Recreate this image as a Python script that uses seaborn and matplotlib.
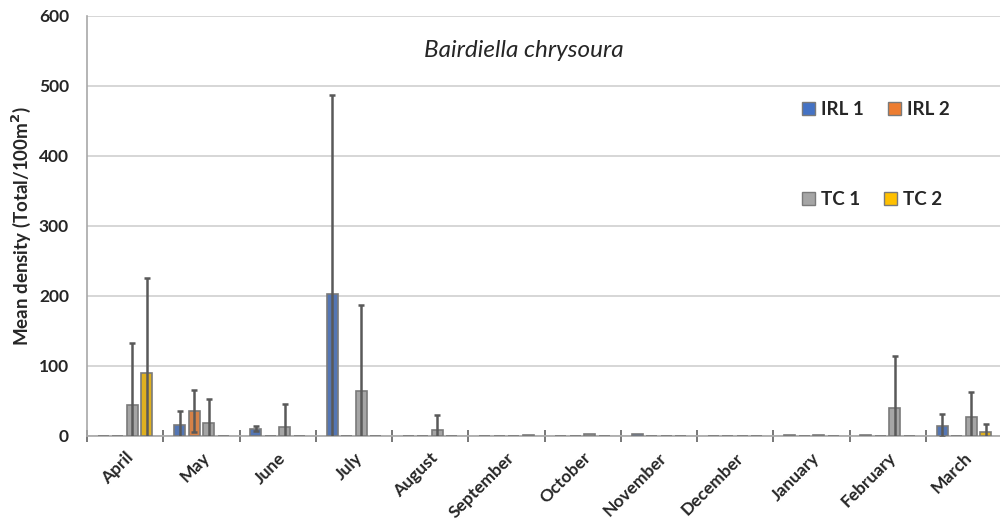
import numpy as np
import pandas as pd
import matplotlib
matplotlib.use("Agg")
import matplotlib.pyplot as plt
from matplotlib.patches import Patch
import seaborn as sns

months = ["April", "May", "June", "July", "August", "September", "October",
          "November", "December", "January", "February", "March"]
sites = ["IRL 1", "IRL 2", "TC 1", "TC 2"]

# Mean density per site and month
irl1_mean = [0, 16, 10, 203, 0, 0, 0, 2, 0, 1.5, 1.5, 14.5]
irl2_mean = [0, 35, 0, 0, 0, 0, 0, 0, 0, 0, 0, 0]
tc1_mean = [43.5, 18, 12, 64, 8, 0, 2, 0, 0, 1, 40, 27]
tc2_mean = [89, 0, 0, 0, 0, 1, 0, 0, 0, 0, 0, 6]

# Standard deviations
irl1_sd = [0, 20, 3.5, 284, 0, 0, 0, 0, 0, 0, 0, 16.5]
irl2_sd = [0, 30, 0, 0, 0, 0, 0, 0, 0, 0, 0, 0]
tc1_sd = [88.5, 35, 33, 123, 22, 0, 0, 0, 0, 0, 74, 35]
tc2_sd = [137, 0, 0, 0, 0, 0, 0, 0, 0, 0, 0, 11]

colors = ["#4472C4", "#ED7D31", "#A5A5A5", "#FFC000"]

means = [irl1_mean, irl2_mean, tc1_mean, tc2_mean]
sds = [irl1_sd, irl2_sd, tc1_sd, tc2_sd]

df = pd.DataFrame({
    "month": np.repeat([months], 4, axis=0).ravel(),
    "site": np.repeat(sites, len(months)),
    "mean": np.concatenate(means),
    "sd": np.concatenate(sds),
})

sns.set_theme(style="white")
plt.rcParams["font.family"] = ["Lato", "DejaVu Sans"]
txt = "#262626"

fig = plt.figure(figsize=(10, 5.25), dpi=100)
ax = fig.add_axes([0.087, 0.170, 0.915, 0.800])

sns.barplot(data=df, x="month", y="mean", hue="site", order=months,
            hue_order=sites, palette=colors, errorbar=None, width=0.76,
            gap=0.24, edgecolor="#7a7a7a", linewidth=1.2, ax=ax, legend=False,
            zorder=3)

# Error bars drawn from the bar positions seaborn produced
for cont, m, s in zip(ax.containers, means, sds):
    for patch, mv, sv in zip(cont.patches, m, s):
        if sv > 0:
            xc = patch.get_x() + patch.get_width() / 2
            ax.errorbar(xc, mv, yerr=sv, fmt="none", ecolor="#595959",
                        elinewidth=1.8, capsize=2.5, capthick=1.8, zorder=4)

ax.set_ylim(0, 600)
ax.set_xlim(-0.5, len(months) - 0.5)
ax.set_yticks(np.arange(0, 601, 100))
ax.yaxis.grid(True, color="#d0d0d0", linewidth=1.2, zorder=0)
ax.set_axisbelow(True)

for side in ["top", "right"]:
    ax.spines[side].set_visible(False)
for side in ["left", "bottom"]:
    ax.spines[side].set_color("#a8a8a8")
    ax.spines[side].set_linewidth(1.2)

# Category separator ticks on the x axis
ax.set_xticks(np.arange(len(months)))
ax.set_xticks(np.arange(len(months) + 1) - 0.5, minor=True)
ax.tick_params(axis="x", which="major", length=0, pad=10)
ax.tick_params(axis="x", which="minor", direction="inout", length=8,
               width=1.2, color="#606060", bottom=True)
ax.set_xticklabels(months, rotation=45, ha="right", rotation_mode="anchor",
                   fontsize=12.5, fontweight="bold", color=txt)
ax.tick_params(axis="y", length=0, pad=13)
for lab in ax.get_yticklabels():
    lab.set_fontsize(12.5)
    lab.set_fontweight("bold")
    lab.set_color(txt)

ax.set_xlabel("")
ax.set_ylabel("Mean density (Total/100m$\\mathbf{^2}$)", fontsize=13.5,
              fontweight="bold", color=txt, labelpad=4)

ax.text(0.477, 0.918, "Bairdiella chrysoura", transform=ax.transAxes,
        fontsize=17.5, style="italic", ha="center", va="center", color=txt)

h1 = [Patch(facecolor=colors[0], edgecolor="#7a7a7a"),
      Patch(facecolor=colors[1], edgecolor="#7a7a7a")]
h2 = [Patch(facecolor=colors[2], edgecolor="#7a7a7a"),
      Patch(facecolor=colors[3], edgecolor="#7a7a7a")]
leg_kw = dict(ncol=2, frameon=False, handlelength=0.7, handleheight=0.7,
              handletextpad=0.3, columnspacing=1.3,
              prop={"weight": "bold", "size": 13.5})
leg1 = ax.legend(h1, sites[:2], loc="center", bbox_to_anchor=(0.862, 0.776),
                 **leg_kw)
ax.add_artist(leg1)
ax.legend(h2, sites[2:], loc="center", bbox_to_anchor=(0.858, 0.562), **leg_kw)

fig.savefig("out.png", dpi=100)
